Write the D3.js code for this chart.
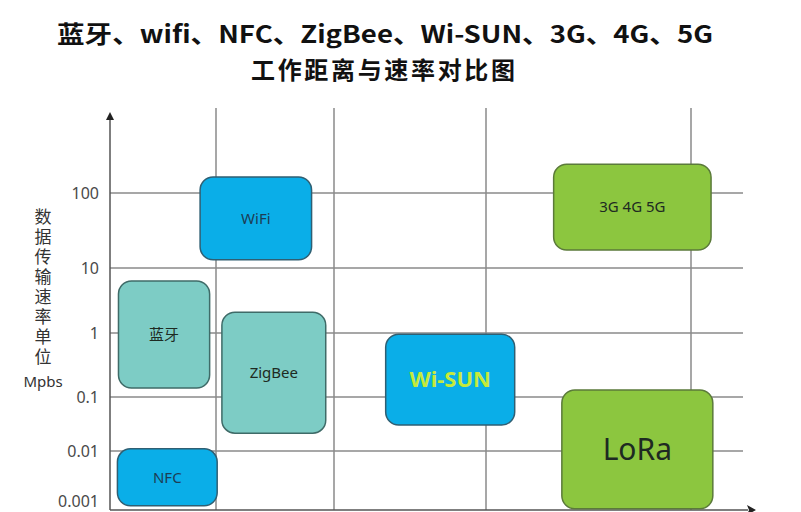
<!DOCTYPE html>
<html>
<head>
<meta charset="utf-8">
<title>工作距离与速率对比图</title>
<style>
  body { margin: 0; background: #fff; }
  svg { display: block; }
  .tick text { font-family: "Noto Sans", sans-serif; font-size: 16px; fill: #4a4a4a; }
  .vlabel { writing-mode: vertical-rl; text-orientation: upright; }
</style>
</head>
<body>
<script src="https://cdn.jsdelivr.net/npm/d3@7/dist/d3.min.js"></script>
<script>
// rate ticks (log10 of Mbps) and their labels
var rateTicks = [-3, -2, -1, 0, 1, 2];
var rateLabels = ["0.001", "0.01", "0.1", "1", "10", "100"];
// distance grid columns (unlabelled)
var distTicks = [1, 2, 3, 4];

// boxes: distance range (grid units) and rate range (log10 Mbps)
var names = ["蓝牙", "NFC", "WiFi", "ZigBee", "Wi-SUN", "3G 4G 5G", "LoRa"];
var distLo = [0.08, 0.07, 0.85, 1.05, 2.34, 3.33, 3.37];
var distHi = [0.94, 1.01, 1.81, 1.93, 3.14, 4.34, 4.37];
var rateLo = [-0.86, -2.93, 1.11, -1.67, -1.52, 1.24, -2.98];
var rateHi = [0.8, -1.96, 2.2, 0.32, -0.02, 2.36, -0.89];
var groups = ["teal", "blue", "blue", "teal", "blue", "green", "green"];

var W = 801, H = 512;
var fills = { blue: "#0aaee8", teal: "#7dccc5", green: "#8cc63f" };
var strokes = { blue: "#2f5f73", teal: "#3f6b68", green: "#5b7a3a" };

// uneven spacing in the picture, so piecewise linear scales
var y = d3.scaleLinear()
  .domain([-3, -2, -1, 0, 1, 2, 3])
  .range([510, 451, 397, 333, 268, 193, 113]);
var x = d3.scaleLinear()
  .domain([0, 1, 2, 3, 4, 5])
  .range([110, 216, 334, 486, 691, 750]);

var svg = d3.select("body").append("svg")
  .attr("width", W)
  .attr("height", H);

// title
var title = svg.append("g").attr("id", "title")
  .attr("font-family", "'Noto Sans CJK SC', sans-serif")
  .attr("font-weight", "bold")
  .attr("text-anchor", "middle")
  .attr("fill", "#111");
title.append("text").attr("x", 385).attr("y", 43)
  .attr("font-size", 24)
  .attr("textLength", 656).attr("lengthAdjust", "spacingAndGlyphs")
  .text("蓝牙、wifi、NFC、ZigBee、Wi-SUN、3G、4G、5G");
title.append("text").attr("x", 383).attr("y", 79)
  .attr("font-size", 24)
  .attr("textLength", 264)
  .text("工作距离与速率对比图");

// grid lines
svg.append("g").attr("id", "hgrid")
  .selectAll("line").data(rateTicks.slice(1)).enter().append("line")
  .attr("x1", x(0)).attr("x2", 743)
  .attr("y1", function (d) { return y(d); })
  .attr("y2", function (d) { return y(d); })
  .attr("stroke", "#8a8a8a").attr("stroke-width", 1.5);

svg.append("g").attr("id", "vgrid")
  .selectAll("line").data(distTicks).enter().append("line")
  .attr("x1", function (d) { return x(d); })
  .attr("x2", function (d) { return x(d); })
  .attr("y1", 108).attr("y2", y(-3))
  .attr("stroke", "#8a8a8a").attr("stroke-width", 1.5);

// axes
svg.append("line").attr("x1", x(0)).attr("x2", x(0))
  .attr("y1", 116).attr("y2", y(-3))
  .attr("stroke", "#555").attr("stroke-width", 1.5);
svg.append("line").attr("x1", x(0)).attr("x2", 748)
  .attr("y1", y(-3)).attr("y2", y(-3))
  .attr("stroke", "#555").attr("stroke-width", 1.5);
svg.append("path")
  .attr("d", "M" + x(0) + ",112 l-4,8 l8,0 z")
  .attr("fill", "#222");
svg.append("path")
  .attr("d", "M756," + y(-3) + " l-9,-5 l2,5 l-2,5 z")
  .attr("fill", "#222");

var yAxis = svg.append("g").attr("id", "y_axis")
  .attr("transform", "translate(" + (x(0) - 8) + ",0)")
  .call(d3.axisLeft(y).tickValues(rateTicks).tickSize(0)
    .tickFormat(function (d, i) { return rateLabels[i]; }));
yAxis.select(".domain").remove();
yAxis.selectAll(".tick text").attr("dy", "0.32em");
yAxis.selectAll(".tick").filter(function (d) { return d === -3; })
  .select("text").attr("dy", "-0.2em");

// y axis label, stacked vertically in one text
var ylab = svg.append("g").attr("id", "y_label").attr("fill", "#333");
ylab.append("text").attr("class", "vlabel")
  .attr("x", 43).attr("y", 208)
  .attr("font-family", "'Noto Sans CJK SC', sans-serif")
  .attr("font-size", 17)
  .attr("letter-spacing", 3)
  .text("数据传输速率单位");
ylab.append("text").attr("x", 43).attr("y", 387)
  .attr("text-anchor", "middle")
  .attr("font-family", "'Noto Sans', sans-serif")
  .attr("font-size", 15)
  .text("Mpbs");

// boxes
var boxes = svg.append("g").attr("id", "boxes")
  .selectAll("g").data(names).enter().append("g");

boxes.append("rect")
  .attr("x", function (d, i) { return x(distLo[i]); })
  .attr("y", function (d, i) { return y(rateHi[i]); })
  .attr("width", function (d, i) { return x(distHi[i]) - x(distLo[i]); })
  .attr("height", function (d, i) { return y(rateLo[i]) - y(rateHi[i]); })
  .attr("rx", 13).attr("ry", 13)
  .attr("fill", function (d, i) { return fills[groups[i]]; })
  .attr("stroke", function (d, i) { return strokes[groups[i]]; })
  .attr("stroke-width", 1.5);

boxes.append("text")
  .attr("x", function (d, i) { return (x(distLo[i]) + x(distHi[i])) / 2; })
  .attr("y", function (d, i) { return (y(rateLo[i]) + y(rateHi[i])) / 2; })
  .attr("dy", "0.35em")
  .attr("text-anchor", "middle")
  .attr("font-family", function (d) {
    return d === "蓝牙" ? "'Noto Sans CJK SC', sans-serif" : "'Noto Sans', sans-serif";
  })
  .attr("font-size", function (d) {
    if (d === "LoRa") return 30;
    if (d === "Wi-SUN") return 22;
    return 15;
  })
  .attr("font-weight", function (d) { return d === "Wi-SUN" ? "bold" : "normal"; })
  .attr("fill", function (d, i) {
    if (d === "Wi-SUN") return "#c6ea3a";
    return groups[i] === "blue" ? "#1d3d55" : "#1e2a22";
  })
  .text(function (d) { return d; });
</script>
</body>
</html>
